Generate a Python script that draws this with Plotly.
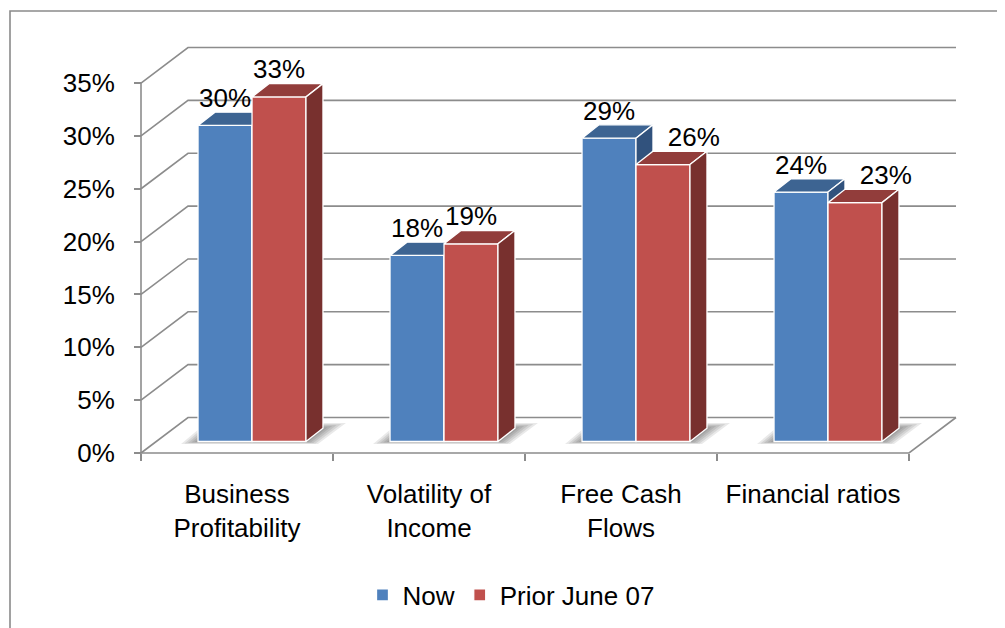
import plotly.graph_objects as go

# ---------------- data ----------------
categories = ["Business<br>Profitability", "Volatility of<br>Income", "Free Cash<br>Flows", "Financial ratios"]
series_names = ["Now", "Prior June 07"]
now_values = [0.299, 0.176, 0.287, 0.236]
prior_values = [0.326, 0.187, 0.262, 0.226]
y_tick_values = [0.0, 0.05, 0.10, 0.15, 0.20, 0.25, 0.30, 0.35]
y_tick_labels = ["0%", "5%", "10%", "15%", "20%", "25%", "30%", "35%"]

# ---------------- style / geometry ----------------
W, H = 1005, 628
OFF = 8                 # page body margin of the html page
ML, MR, MT, MB = 100, 25, 40, 168
PLOT_W, PLOT_H = W - ML - MR, H - MT - MB
PX_CAT = 192.0          # pixels per category
PX_UNIT = 1057.0        # pixels per 1.0 (100%)
FRONT_CX, FRONT_Y0 = 237.0, 453.0   # front plane: category-0 centre, zero line
BAR_CX, BAR_Y0 = 252.0, 441.5       # bar plane
WALL_DX, WALL_DY = 47.0 / PX_CAT, 35.5 / PX_UNIT  # depth of floor / back wall
BAR_DX, BAR_DY = 17.0 / PX_CAT, 13.3 / PX_UNIT    # depth of each bar
BAR_W = 0.281
HALF = 0.1406

FONT = "Liberation Sans, Arial, sans-serif"
FS = 26
GRID = "#8c8c8c"
COLORS = {
    "Now": ("#4F81BD", "#3D6492", "#31527D"),
    "Prior June 07": ("#C0504D", "#923D3B", "#78302E"),
}


def xr(cx):
    return [(ML - cx) / PX_CAT, (ML + PLOT_W - cx) / PX_CAT]


def yr(y0):
    return [(y0 - (MT + PLOT_H)) / PX_UNIT, (y0 - MT) / PX_UNIT]


fig = go.Figure()
n = len(categories)

# ---------------- soft floor shadows (front plane coords) ----------------
SX = (BAR_CX - FRONT_CX) / PX_CAT
SY = (FRONT_Y0 - BAR_Y0) / PX_UNIT
for t in [1.0, 0.8, 0.6, 0.4, 0.2]:
    shx, shy = [], []
    for i in range(n):
        xl = i - HALF - BAR_W / 2 + SX
        xrr = i + HALF + BAR_W / 2 + SX
        # footprint (t=0) -> outer blurred edge (t=1), offsets in pixels
        fl = (xl - t * 17 / PX_CAT, SY - t * 2.5 / PX_UNIT)
        fr = (xrr + t * 12 / PX_CAT, SY - t * 2.5 / PX_UNIT)
        br = (xrr + (17 + t * 23) / PX_CAT, SY + (13.3 + t * 5.2) / PX_UNIT)
        bl = (xl + (17 - t * 9) / PX_CAT, SY + (13.3 + t * 5.2) / PX_UNIT)
        for p in (fl, fr, br, bl, fl):
            shx.append(p[0])
            shy.append(p[1])
        shx.append(None)
        shy.append(None)
    fig.add_trace(go.Scatter(x=shx, y=shy, mode="lines", fill="toself",
                             fillcolor="rgba(0,0,0,0.085)", line=dict(width=0),
                             hoverinfo="skip", showlegend=False, xaxis="x", yaxis="y"))

# ---------------- frame: back wall, floor, front axis (front plane x/y) ----------------
left, right = -0.5, n - 0.5
fx, fy = [], []
for t in y_tick_values:
    fx += [left, left + WALL_DX, right + WALL_DX, None]
    fy += [t, t + WALL_DY, t + WALL_DY, None]
# floor front + right edge
fx += [left, right, right + WALL_DX, None]
fy += [0, 0, WALL_DY, None]
# front vertical axis
fx += [left, left]
fy += [0, y_tick_values[-1]]
fig.add_trace(go.Scatter(x=fx, y=fy, mode="lines", line=dict(color=GRID, width=1.6),
                         hoverinfo="skip", showlegend=False, xaxis="x", yaxis="y",
                         cliponaxis=False))


# ---------------- bars (bar plane, one overlay subplot per series) ----------------
def add_series(name, values, offset, xa, ya):
    front, top, side = COLORS[name]
    xs = [i + offset for i in range(len(values))]
    fig.add_trace(go.Bar(x=xs, y=values, width=BAR_W, name=name,
                         marker=dict(color=front, line=dict(color="white", width=1.3)),
                         xaxis=xa, yaxis=ya, hovertemplate="%{y:.0%}<extra>" + name + "</extra>"))
    tx, ty, sx, sy = [], [], [], []
    for x, v in zip(xs, values):
        x0, x1 = x - BAR_W / 2, x + BAR_W / 2
        tx += [x0, x1, x1 + BAR_DX, x0 + BAR_DX, x0, None]
        ty += [v, v, v + BAR_DY, v + BAR_DY, v, None]
        sx += [x1, x1 + BAR_DX, x1 + BAR_DX, x1, x1, None]
        sy += [0, BAR_DY, v + BAR_DY, v, 0, None]
    fig.add_trace(go.Scatter(x=tx, y=ty, mode="lines", fill="toself", fillcolor=top,
                             line=dict(color="white", width=1.3), hoverinfo="skip",
                             showlegend=False, xaxis=xa, yaxis=ya))
    fig.add_trace(go.Scatter(x=sx, y=sy, mode="lines", fill="toself", fillcolor=side,
                             line=dict(color="white", width=1.3), hoverinfo="skip",
                             showlegend=False, xaxis=xa, yaxis=ya))


add_series("Now", now_values, -HALF, "x2", "y2")
add_series("Prior June 07", prior_values, HALF, "x3", "y3")

# ---------------- data labels ----------------
LABEL_LIFT = BAR_DY * 0.6 + 4 / PX_UNIT
lx, ly, lt, lp = [], [], [], []
for i, (a, b) in enumerate(zip(now_values, prior_values)):
    lx.append(i - HALF)
    ly.append(a + LABEL_LIFT)
    lt.append(f"{round(a * 100)}%")
    lp.append("top center")
    if b < a:
        lx.append(i + HALF + 0.025)
        lp.append("top right")
    else:
        lx.append(i + HALF)
        lp.append("top center")
    ly.append(b + LABEL_LIFT)
    lt.append(f"{round(b * 100)}%")
fig.add_trace(go.Scatter(x=lx, y=ly, text=lt, mode="text", textposition=lp,
                         textfont=dict(family=FONT, size=FS, color="black"),
                         hoverinfo="skip", showlegend=False, xaxis="x3", yaxis="y3",
                         cliponaxis=False))

# ---------------- border ----------------
fig.add_shape(type="rect", xref="paper", yref="paper",
              x0=(10 - ML) / PLOT_W, x1=(W + 10 - ML) / PLOT_W,
              y0=(MT + PLOT_H - (H + 10)) / PLOT_H, y1=(MT + PLOT_H - 11) / PLOT_H,
              line=dict(color="#8a8a8a", width=1.6), fillcolor="rgba(0,0,0,0)")

hidden = dict(visible=False, showgrid=False, zeroline=False, fixedrange=True)
fig.update_layout(
    width=W - OFF, height=H - OFF,
    margin=dict(l=ML - OFF, r=MR, t=MT - OFF, b=MB, autoexpand=False),
    paper_bgcolor="white", plot_bgcolor="white",
    font=dict(family=FONT, size=FS, color="black"),
    barmode="overlay",
    showlegend=True,
    legend=dict(orientation="h", x=(511 - ML) / PLOT_W, xanchor="center",
                y=(MT + PLOT_H - 595) / PLOT_H, yanchor="middle",
                font=dict(family=FONT, size=FS, color="black"), bgcolor="rgba(0,0,0,0)"),
    xaxis=dict(range=xr(FRONT_CX), tickmode="array", tickvals=list(range(n)), ticktext=categories,
               ticks="outside", ticklen=7, tickcolor="rgba(0,0,0,0)",
               minor=dict(tickmode="array", tickvals=[k - 0.5 for k in range(n + 1)],
                          ticks="outside", ticklen=7, tickwidth=1.6, tickcolor=GRID, showgrid=False),
               showgrid=False, zeroline=False, showline=False, anchor="free",
               position=(MT + PLOT_H - FRONT_Y0) / PLOT_H, ticklabelstandoff=11,
               tickfont=dict(family=FONT, size=FS, color="black"), fixedrange=True),
    yaxis=dict(range=yr(FRONT_Y0), tickmode="array", tickvals=y_tick_values, ticktext=y_tick_labels,
               ticks="outside", ticklen=7, tickwidth=1.6, tickcolor=GRID,
               showgrid=False, zeroline=False, showline=False, anchor="free",
               position=(FRONT_CX - PX_CAT / 2 - ML) / PLOT_W, ticklabelstandoff=14,
               tickfont=dict(family=FONT, size=FS, color="black"), fixedrange=True),
    xaxis2=dict(range=xr(BAR_CX), overlaying="x", anchor="y2", **hidden),
    yaxis2=dict(range=yr(BAR_Y0), overlaying="y", anchor="x2", **hidden),
    xaxis3=dict(range=xr(BAR_CX), overlaying="x", anchor="y3", **hidden),
    yaxis3=dict(range=yr(BAR_Y0), overlaying="y", anchor="x3", **hidden),
)

fig.write_html("out.html")
